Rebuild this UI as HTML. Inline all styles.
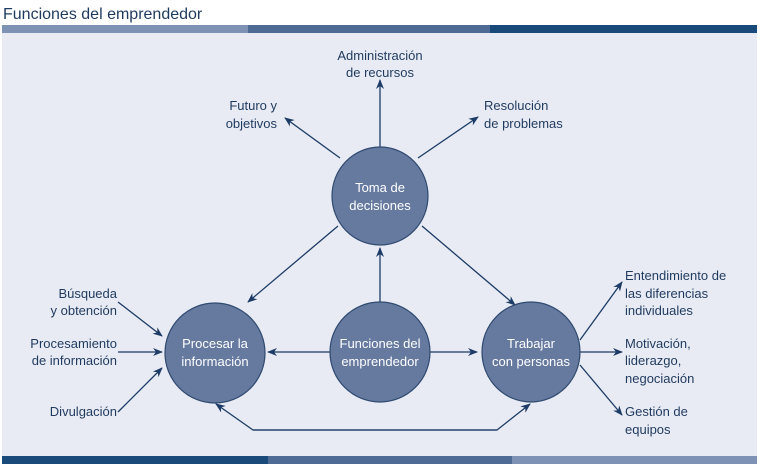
<!DOCTYPE html>
<html><head><meta charset="utf-8"><style>
body{margin:0;width:766px;height:468px;background:#fff;overflow:hidden;font-family:"Liberation Sans",sans-serif}
</style></head><body>
<svg width="766" height="468" xmlns="http://www.w3.org/2000/svg" font-family="Liberation Sans, sans-serif">
<defs><marker id="a" markerWidth="10" markerHeight="8" refX="9" refY="4" orient="auto" markerUnits="userSpaceOnUse"><path d="M0,0 L10,4 L0,8 L3,4 Z" fill="#1c3b66"/></marker></defs>
<text x="3" y="19" font-size="16" fill="#1f3a5f">Funciones del emprendedor</text>
<rect x="2" y="25" width="246" height="8" fill="#7e92b6"/>
<rect x="248" y="25" width="242" height="8" fill="#4e6b96"/>
<rect x="490" y="25" width="267" height="8" fill="#1a4a7a"/>
<rect x="2" y="33" width="755" height="423" fill="#e8ebf3"/>
<rect x="2" y="456" width="266" height="8" fill="#1a4a7a"/>
<rect x="268" y="456" width="244" height="8" fill="#4e6b96"/>
<rect x="512" y="456" width="245" height="8" fill="#7e92b6"/>
<g stroke="#1c3b66" stroke-width="1.3" fill="none" marker-end="url(#a)">
<line x1="380" y1="147" x2="380" y2="80"/>
<line x1="340" y1="158" x2="285" y2="118"/>
<line x1="418" y1="158" x2="478" y2="117"/>
<line x1="338" y1="226" x2="248" y2="302"/>
<line x1="422" y1="226" x2="515" y2="305"/>
<line x1="380" y1="302" x2="380" y2="248"/>
<line x1="330" y1="352" x2="268" y2="352"/>
<line x1="430" y1="352" x2="477" y2="352"/>
<line x1="118" y1="302" x2="162" y2="336"/>
<line x1="118" y1="352" x2="162" y2="352"/>
<line x1="118" y1="412" x2="162" y2="368"/>
<line x1="580" y1="340" x2="622" y2="282"/>
<line x1="580" y1="352" x2="622" y2="352"/>
<line x1="580" y1="365" x2="622" y2="415"/>
<polyline points="497,430 253,430 216,404" />
<polyline points="253,430 497,430 530,404" />
</g>
<g fill="#66799f" stroke="#2f4a70" stroke-width="1.2">
<ellipse cx="380" cy="196" rx="48" ry="49"/>
<ellipse cx="215" cy="353" rx="50" ry="50"/>
<ellipse cx="380" cy="352" rx="50" ry="50"/>
<ellipse cx="531" cy="352" rx="49" ry="50"/>
</g>
<g fill="#fff" font-size="13" text-anchor="middle">
<text x="380" y="192">Toma de</text><text x="380" y="210">decisiones</text>
<text x="215" y="348">Procesar la</text><text x="215" y="366">información</text>
<text x="380" y="348">Funciones del</text><text x="380" y="366">emprendedor</text>
<text x="531" y="348">Trabajar</text><text x="531" y="366">con personas</text>
</g>
<g fill="#1f3a5f" font-size="13">
<g text-anchor="middle"><text x="380" y="60">Administración</text><text x="380" y="77">de recursos</text></g>
<g text-anchor="end"><text x="277" y="110">Futuro y</text><text x="277" y="128">objetivos</text>
<text x="117" y="298">Búsqueda</text><text x="117" y="315">y obtención</text>
<text x="117" y="348">Procesamiento</text><text x="117" y="365">de información</text>
<text x="117" y="416">Divulgación</text></g>
<text x="484" y="110">Resolución</text><text x="484" y="128">de problemas</text>
<text x="625" y="280">Entendimiento de</text><text x="625" y="298">las diferencias</text><text x="625" y="315">individuales</text>
<text x="625" y="348">Motivación,</text><text x="625" y="365">liderazgo,</text><text x="625" y="383">negociación</text>
<text x="625" y="416">Gestión de</text><text x="625" y="434">equipos</text>
</g>
</svg>
</body></html>
